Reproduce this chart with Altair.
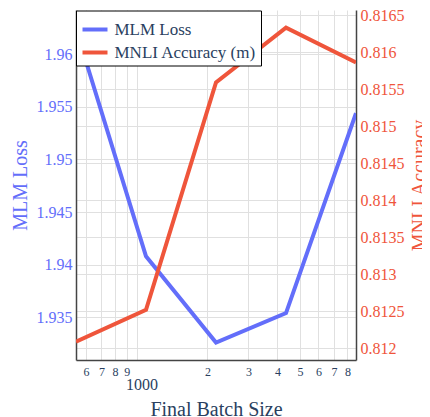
import altair as alt
import pandas as pd

# ---- data ----
batch_sizes = [544, 1088, 2176, 4352, 8704]
mlm_loss = [1.9624, 1.9408, 1.9326, 1.9354, 1.9544]
mnli_acc = [0.81209, 0.81252, 0.81559, 0.81633, 0.81586]
series_names = ["MLM Loss", "MNLI Accuracy (m)"]
x_ticks = [600, 700, 800, 900, 1000, 2000, 3000, 4000, 5000, 6000, 7000, 8000]
left_ticks = [1.935, 1.94, 1.945, 1.95, 1.955, 1.96]
right_ticks = [0.812, 0.8125, 0.813, 0.8135, 0.814, 0.8145, 0.815, 0.8155, 0.816, 0.8165]

BLUE = "#636efa"
RED = "#ef553b"
INK = "#2a3f5f"
FONT = "Liberation Serif"
GRID = "#e0e0e0"
AXIS_LINE = "#444444"

df_mlm = pd.DataFrame({"batch": batch_sizes, "value": mlm_loss, "series": series_names[0]})
df_mnli = pd.DataFrame({"batch": batch_sizes, "value": mnli_acc, "series": series_names[1]})

color = alt.Color(
    "series:N",
    scale=alt.Scale(domain=series_names, range=[BLUE, RED]),
    legend=alt.Legend(
        title=None, orient="none", legendX=0, legendY=0.5,
        symbolType="stroke", symbolSize=625, symbolStrokeWidth=4,
        labelFont=FONT, labelFontSize=17, labelColor=INK, labelLimit=400,
        padding=4.5, rowPadding=0, labelOffset=5,
        strokeColor="black", fillColor="white",
    ),
)

x_enc = alt.X(
    "batch:Q",
    scale=alt.Scale(type="log", domain=[544, 8704], nice=False),
    axis=alt.Axis(
        title="Final Batch Size", titleFont=FONT, titleFontSize=20, titleColor=INK,
        titleFontWeight="normal", titlePadding=7,
        values=x_ticks,
        labelExpr="datum.value < 1000 ? '' + round(datum.value/100) : (datum.value == 1000 ? '1000' : '' + round(datum.value/1000))",
        labelFont=FONT, labelColor=INK,
        labelFontSize={"condition": {"test": "datum.value == 1000", "value": 16}, "value": 12},
        labelPadding={"condition": {"test": "datum.value == 1000", "value": 16}, "value": 6},
        labelOffset={"condition": {"test": "datum.value == 1000", "value": 4}, "value": 0},
        labelOverlap=False, labelFlush=False,
        ticks=False, grid=True, gridColor=GRID, domainColor=AXIS_LINE, domainWidth=1.5,
    ),
)

blue = alt.Chart(df_mlm).mark_line(strokeWidth=4, clip=True).encode(
    x=x_enc,
    y=alt.Y(
        "value:Q",
        scale=alt.Scale(domain=[1.93094, 1.96421], nice=False, zero=False),
        axis=alt.Axis(
            orient="left", title="MLM Loss", titleFont=FONT, titleFontSize=20,
            titleColor=BLUE, titleFontWeight="normal", titlePadding=6,
            values=left_ticks, format=".4~f",
            labelFont=FONT, labelFontSize=16, labelColor=BLUE, labelPadding=4,
            ticks=False, grid=True, gridColor=GRID, domainColor=AXIS_LINE, domainWidth=1.5,
        ),
    ),
    color=color,
)

red = alt.Chart(df_mnli).mark_line(strokeWidth=4, clip=True).encode(
    x=x_enc,
    y=alt.Y(
        "value:Q",
        scale=alt.Scale(domain=[0.811843, 0.816568], nice=False, zero=False),
        axis=alt.Axis(
            orient="right", title="MNLI Accuracy", titleFont=FONT, titleFontSize=20,
            titleColor=RED, titleFontWeight="normal", titlePadding=5,
            titleAngle=270, titleBaseline="top",
            values=right_ticks, format=".4~f",
            labelFont=FONT, labelFontSize=16, labelColor=RED, labelPadding=4,
            ticks=False, grid=True, gridColor=GRID, domainColor=AXIS_LINE, domainWidth=1.5,
        ),
    ),
    color=color,
)

chart = (
    alt.layer(blue, red)
    .resolve_scale(y="independent")
    .properties(
        width=280, height=350,
        autosize=alt.AutoSizeParams(type="none"),
        padding={"left": 68, "top": 2, "right": 66, "bottom": 57},
        background="white",
    )
    .configure_view(stroke=None)
)

chart.save("out.html", embed_options={"renderer": "svg", "actions": False})
